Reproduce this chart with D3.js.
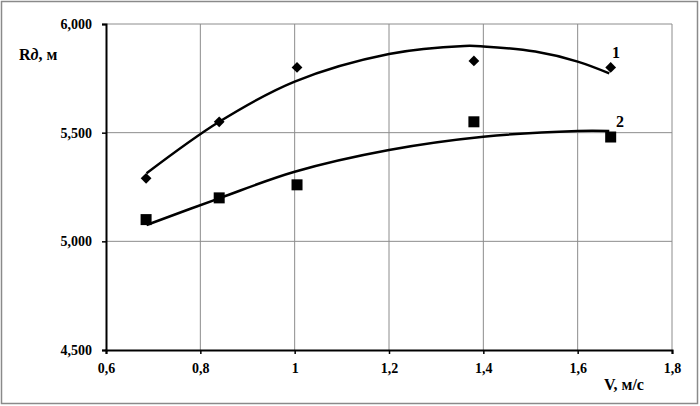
<!DOCTYPE html>
<html>
<head>
<meta charset="utf-8">
<script src="https://cdn.jsdelivr.net/npm/d3@7"></script>
<style>
  body { margin: 0; background: #fff; }
  svg { display: block; font-family: "Liberation Serif", "Times New Roman", serif; font-weight: bold; }
</style>
</head>
<body>
<svg id="chart" width="700" height="406"></svg>
<script>
const width = 700;
const height = 406;

// measured points
const velocity = [0.685, 0.84, 1.005, 1.38, 1.67];
const range1 = [5290, 5550, 5800, 5830, 5800];
const range2 = [5100, 5200, 5260, 5550, 5480];

// trend lines
const trendV = [0.686, 0.84, 1.0, 1.2, 1.36, 1.4, 1.51, 1.6, 1.667];
const trend1 = [5313, 5550, 5735, 5862, 5899, 5897, 5873, 5827, 5773];
const trend2V = [0.686, 0.84, 1.0, 1.2, 1.4, 1.6, 1.667];
const trend2 = [5075, 5198, 5320, 5420, 5481, 5508, 5508];

const xTicks = [0.6, 0.8, 1.0, 1.2, 1.4, 1.6, 1.8];
const yTicks = [4500, 5000, 5500, 6000];

const margin = { left: 106, right: 28, top: 24, bottom: 56 };

const svg = d3.select('#chart');

svg.append('rect')
    .attr('x', 1.5).attr('y', 1.5)
    .attr('width', width - 4).attr('height', height - 4)
    .attr('fill', '#fff')
    .attr('stroke', '#8a8a8a')
    .attr('stroke-width', 1.5);

const x = d3.scaleLinear().domain([0.6, 1.8]).range([margin.left, width - margin.right]);
const y = d3.scaleLinear().domain([4500, 6000]).range([height - margin.bottom, margin.top]);

// grid
svg.append('g')
    .selectAll('line')
    .data(xTicks.slice(1))
    .join('line')
    .attr('x1', d => x(d)).attr('x2', d => x(d))
    .attr('y1', y(4500)).attr('y2', y(6000))
    .attr('stroke', '#8c8c8c').attr('stroke-width', 1);

svg.append('g')
    .selectAll('line')
    .data(yTicks.slice(1))
    .join('line')
    .attr('x1', x(0.6)).attr('x2', x(1.8))
    .attr('y1', d => y(d)).attr('y2', d => y(d))
    .attr('stroke', '#8c8c8c').attr('stroke-width', 1);

const fmtX = d => d === 1 ? '1' : d3.format('.1f')(d).replace('.', ',');

// axes
const xAxis = svg.append('g')
    .attr('transform', `translate(0,${y(4500)})`)
    .call(d3.axisBottom(x).tickValues(xTicks).tickFormat(fmtX).tickSize(4).tickPadding(9));
const yAxis = svg.append('g')
    .attr('transform', `translate(${x(0.6)},0)`)
    .call(d3.axisLeft(y).tickValues(yTicks).tickFormat(d => d3.format(',')(d)).tickSize(4).tickPadding(10));

[xAxis, yAxis].forEach(a => {
    a.select('.domain').attr('stroke', '#000').attr('stroke-width', 2);
    a.selectAll('.tick line').attr('stroke', '#000').attr('stroke-width', 1.5);
    a.selectAll('.tick text')
        .attr('fill', '#000')
        .style('font-family', '"Liberation Serif", serif')
        .style('font-weight', 'bold')
        .style('font-size', '14px');
});

// trend lines
const line = d3.line().curve(d3.curveCatmullRom.alpha(0.5));
svg.append('path')
    .attr('d', line(trendV.map((v, i) => [x(v), y(trend1[i])])))
    .attr('fill', 'none').attr('stroke', '#000').attr('stroke-width', 2.5);
svg.append('path')
    .attr('d', line(trend2V.map((v, i) => [x(v), y(trend2[i])])))
    .attr('fill', 'none').attr('stroke', '#000').attr('stroke-width', 2.5);

// markers
svg.append('g')
    .selectAll('path')
    .data(velocity)
    .join('path')
    .attr('d', d3.symbol(d3.symbolSquare, 58))
    .attr('transform', (v, i) => `translate(${x(v)},${y(range1[i])}) rotate(45)`)
    .attr('fill', '#000');

svg.append('g')
    .selectAll('rect')
    .data(velocity)
    .join('rect')
    .attr('x', v => x(v) - 5.5)
    .attr('y', (v, i) => y(range2[i]) - 5.5)
    .attr('width', 11).attr('height', 11)
    .attr('fill', '#000');

// series labels
svg.append('text').attr('x', 616).attr('y', 58).attr('font-size', 16).attr('text-anchor', 'middle').text('1');
svg.append('text').attr('x', 620).attr('y', 127).attr('font-size', 16).attr('text-anchor', 'middle').text('2');

// axis titles
const yt = svg.append('text').attr('x', 19).attr('y', 60).attr('font-size', 16);
yt.append('tspan').text('R');
yt.append('tspan').attr('font-style', 'italic').text('д');
yt.append('tspan').text(', м');

svg.append('text').attr('x', 604).attr('y', 390).attr('font-size', 16).text('V, м/с');
</script>
</body>
</html>
